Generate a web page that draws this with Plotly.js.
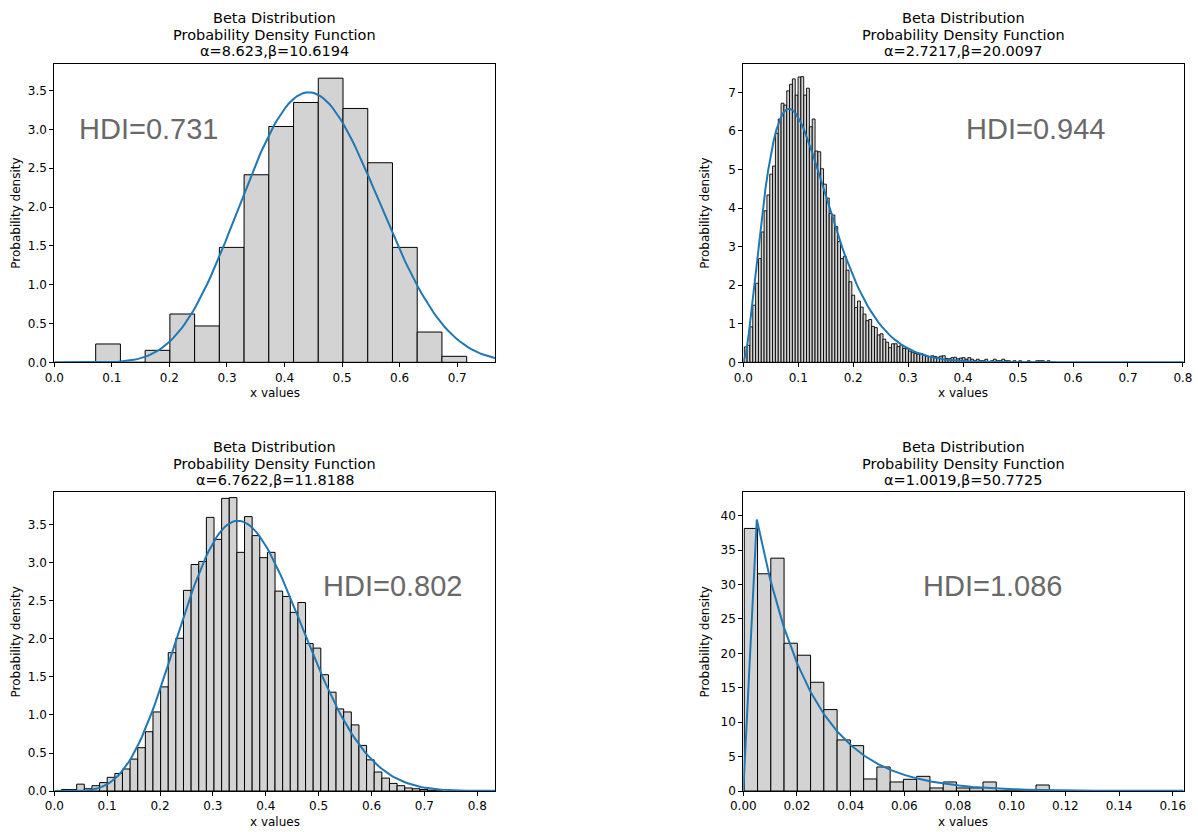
<!DOCTYPE html>
<html>
<head>
<meta charset="utf-8">
<script src="https://cdn.plot.ly/plotly-3.0.1.min.js"></script>
<style>
  html, body { margin: 0; padding: 0; background: #fff; }
  #chart { width: 1198px; height: 832px; }
</style>
</head>
<body>
<div id="chart"></div>
<script>
// ---- Parameters of the four fitted Beta distributions ----
const alphas = [8.623, 2.7217, 6.7622, 1.0019];
const betas  = [10.6194, 20.0097, 11.8188, 50.7725];
const hdiValues = ["0.731", "0.944", "0.802", "1.086"];

// ---- Histogram bins (density-normalised) ----
const binStart = [0.0719, 0.0018, 0.0135, 0.00037];
const binWidth = [0.04297, 0.00515, 0.01443, 0.00494];

const density1 = [0.236, 0, 0.154, 0.622, 0.468, 1.48, 2.415, 3.037, 3.346, 3.659,
                  3.269, 2.57, 1.48, 0.39, 0.077];

const density2 = [
  0.40, 0.44, 0.92, 1.48, 2.05, 2.69, 3.38, 3.93, 4.34, 4.88,
  5.09, 5.94, 6.31, 6.72, 6.67, 7.04, 7.21, 7.35, 6.93, 7.40,
  7.41, 6.93, 7.11, 6.11, 6.31, 5.48, 5.46, 5.02, 4.62, 4.26,
  3.86, 3.82, 3.52, 3.13, 2.69, 2.75, 2.39, 2.09, 1.74, 1.42,
  1.59, 1.43, 1.25, 1.08, 1.11, 0.93, 0.90, 0.71, 0.74, 0.60,
  0.52, 0.38, 0.48, 0.48, 0.41, 0.45, 0.36, 0.35, 0.29, 0.26,
  0.23, 0.21, 0.23, 0.18, 0.16, 0.15, 0.17, 0.15, 0.13, 0.16,
  0.17, 0.10, 0.09, 0.12, 0.13, 0.09, 0.11, 0.12, 0.08, 0.12,
  0.08, 0.04, 0.08, 0.04, 0.04, 0.08, 0, 0.04, 0.08, 0.04,
  0.04, 0.08, 0.04, 0.04, 0, 0.04, 0, 0.04, 0, 0,
  0.04, 0, 0, 0.04, 0.04, 0.04, 0, 0.04, 0, 0
];

const density3 = [
  0.02, 0.02, 0.09, 0.03, 0.07, 0.11, 0.18, 0.23, 0.29, 0.42,
  0.57, 0.78, 1.04, 1.37, 1.82, 2.01, 2.64, 2.98, 3.02, 3.60,
  3.31, 3.85, 3.86, 3.14, 3.61, 3.36, 3.07, 3.14, 2.63, 2.56,
  2.35, 2.48, 1.94, 1.88, 1.53, 1.30, 1.08, 1.04, 0.87, 0.60,
  0.41, 0.25, 0.17, 0.10, 0.07, 0.04, 0.03, 0.02, 0.01, 0
];

const density4 = [38.15, 31.56, 33.83, 21.47, 19.73, 15.80, 11.83, 7.42, 6.59, 1.75,
                  3.49, 1.31, 1.70, 2.13, 0.44, 1.31, 0.44, 0.44, 1.31, 0,
                  0, 0, 0.87];

const densities = [density1, density2, density3, density4];

// ---- Axis limits and ticks ----
const xRanges = [[0, 0.766], [0, 0.801], [0, 0.834], [0, 0.164]];
const yRanges = [[0, 3.848], [0, 7.75], [0, 3.93], [0, 43.4]];
const xDticks = [0.1, 0.1, 0.1, 0.02];
const xFormats = [".1f", ".1f", ".1f", ".2f"];
const yDticks = [0.5, 1, 0.5, 5];
const yFormats = [".1f", "d", ".1f", "d"];

// ---- Beta probability density ----
function lgamma(z) {
  const c = [0.99999999999980993, 676.5203681218851, -1259.1392167224028,
             771.32342877765313, -176.61502916214059, 12.507343278686905,
             -0.13857109526572012, 9.9843695780195716e-6, 1.5056327351493116e-7];
  if (z < 0.5) return Math.log(Math.PI / Math.sin(Math.PI * z)) - lgamma(1 - z);
  z -= 1;
  let s = c[0];
  for (let i = 1; i < 9; i++) s += c[i] / (z + i);
  const t = z + 7.5;
  return 0.5 * Math.log(2 * Math.PI) + (z + 0.5) * Math.log(t) - t + Math.log(s);
}
function betaPdf(x, a, b) {
  if (x <= 0 || x >= 1) return 0;
  const lnB = lgamma(a) + lgamma(b) - lgamma(a + b);
  return Math.exp((a - 1) * Math.log(x) + (b - 1) * Math.log(1 - x) - lnB);
}
const gridN = 200;
const grid = Array.from({length: gridN}, (_, i) => i / (gridN - 1));

// ---- Subplot frames (pixels in the 1198 x 832 page) ----
const W = 1198, H = 832;
const frames = [
  {l: 54.3,  r: 495.2,  t: 63.5,  b: 362.3},
  {l: 743.3, r: 1183.5, t: 63.5,  b: 362.3},
  {l: 54.3,  r: 495.2,  t: 492.3, b: 791},
  {l: 743.3, r: 1183.5, t: 492.3, b: 791}
];
const px = v => v / W;
const py = v => 1 - v / H;

const traces = [];
const layout = {
  width: W, height: H,
  margin: {l: 0, r: 0, t: 0, b: 0},
  paper_bgcolor: "#ffffff",
  plot_bgcolor: "#ffffff",
  showlegend: false,
  bargap: 0,
  barmode: "overlay",
  annotations: []
};

const tickFont = {family: "DejaVu Sans", size: 12, color: "#000"};
const baseAxis = {
  showline: true, linecolor: "#000", linewidth: 1, mirror: true,
  ticks: "outside", ticklen: 4, tickwidth: 1, tickcolor: "#000",
  showgrid: false, zeroline: false, tickfont: tickFont, fixedrange: true
};

const hdiPos = [[77, 129], [964, 129.5], [321, 586], [921, 586]];

for (let k = 0; k < 4; k++) {
  const n = k + 1;
  const xa = n === 1 ? "x" : "x" + n;
  const ya = n === 1 ? "y" : "y" + n;
  const f = frames[k];

  const dens = densities[k];
  const centers = dens.map((_, i) => binStart[k] + (i + 0.5) * binWidth[k]);
  traces.push({
    type: "bar", x: centers, y: dens, width: dens.map(() => binWidth[k]),
    xaxis: xa, yaxis: ya,
    marker: {color: "#d3d3d3", line: {color: "#000", width: k === 1 ? 0.9 : 1}},
    hoverinfo: "skip"
  });

  traces.push({
    type: "scatter", mode: "lines", x: grid,
    y: grid.map(v => betaPdf(v, alphas[k], betas[k])),
    xaxis: xa, yaxis: ya,
    line: {color: "#1f77b4", width: 2},
    hoverinfo: "skip"
  });

  layout["xaxis" + (n === 1 ? "" : n)] = Object.assign({}, baseAxis, {
    domain: [px(f.l), px(f.r)], anchor: ya, range: xRanges[k],
    dtick: xDticks[k], tick0: 0, tickformat: xFormats[k]
  });
  layout["yaxis" + (n === 1 ? "" : n)] = Object.assign({}, baseAxis, {
    domain: [py(f.b), py(f.t)], anchor: xa, range: yRanges[k],
    dtick: yDticks[k], tick0: 0, tickformat: yFormats[k]
  });

  const cx = (f.l + f.r) / 2;
  const titleLines = ["Beta Distribution", "Probability Density Function",
                      "\u03b1=" + alphas[k] + ",\u03b2=" + betas[k]];
  titleLines.forEach((txt, j) => {
    layout.annotations.push({
      text: txt, xref: "paper", yref: "paper",
      x: px(cx), y: py(f.t - 45.5 + j * 16.7),
      xanchor: "center", yanchor: "middle", showarrow: false,
      font: {family: "DejaVu Sans", size: 14.5, color: "#000"}
    });
  });

  layout.annotations.push({
    text: "x values", xref: "paper", yref: "paper",
    x: px(cx), y: py(f.b + 30.5),
    xanchor: "center", yanchor: "middle", showarrow: false,
    font: {family: "DejaVu Sans", size: 12, color: "#000"}
  });
  layout.annotations.push({
    text: "Probability density", xref: "paper", yref: "paper",
    x: px(f.l - 38.5), y: py((f.t + f.b) / 2), textangle: -90,
    xanchor: "center", yanchor: "middle", showarrow: false,
    font: {family: "DejaVu Sans", size: 12, color: "#000"}
  });

  layout.annotations.push({
    text: "HDI=" + hdiValues[k], xref: "paper", yref: "paper",
    x: px(hdiPos[k][0]), y: py(hdiPos[k][1]),
    xanchor: "left", yanchor: "middle", showarrow: false,
    font: {family: "Liberation Sans", size: 29, color: "#696969"}
  });
}

Plotly.newPlot("chart", traces, layout, {displayModeBar: false, staticPlot: true});
</script>
</body>
</html>
